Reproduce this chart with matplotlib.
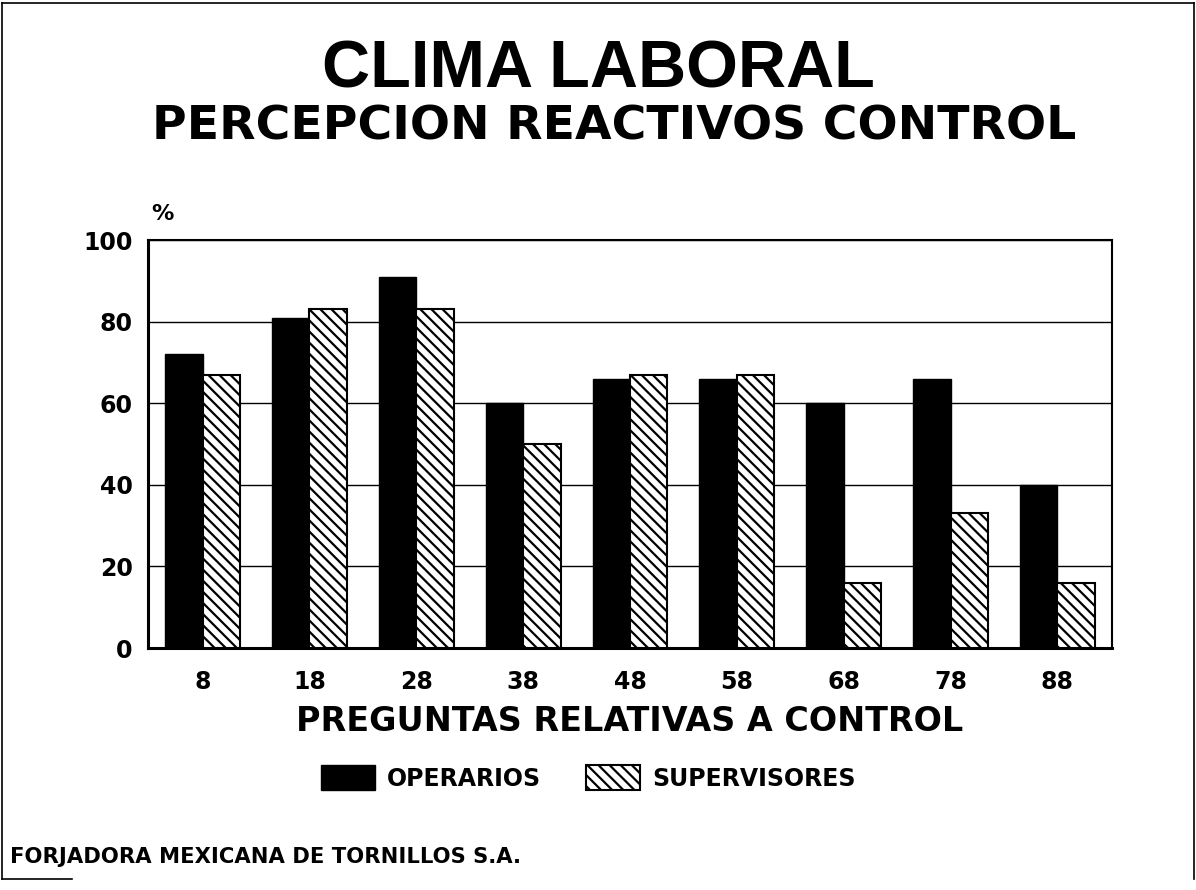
import numpy as np
import matplotlib.pyplot as plt
from matplotlib.lines import Line2D

preguntas = ['8', '18', '28', '38', '48', '58', '68', '78', '88']
operarios = [72, 81, 91, 60, 66, 66, 60, 66, 40]
supervisores = [67, 83, 83, 50, 67, 67, 16, 33, 16]
y_ticks = [0, 20, 40, 60, 80, 100]

plt.rcParams['font.family'] = ['Liberation Sans', 'DejaVu Sans']
plt.rcParams['hatch.linewidth'] = 1.6

fig = plt.figure(figsize=(11.96, 8.90), dpi=100)
ax = fig.add_axes([148 / 1196, 1 - 648 / 890, (1112 - 148) / 1196, (648 - 240) / 890])

x = np.arange(len(preguntas))
w = 0.35
ax.bar(x - w / 2, operarios, w, color='black', edgecolor='black',
       label='OPERARIOS', zorder=3)
ax.bar(x + w / 2, supervisores, w, color='white', edgecolor='black',
       hatch='\\\\\\', linewidth=1.5, label='SUPERVISORES', zorder=3)

ax.set_xlim(-0.51, len(preguntas) - 0.49)
ax.set_ylim(0, 100)
ax.set_yticks(y_ticks)
ax.set_xticks(x)
ax.set_xticklabels(preguntas)
ax.tick_params(length=0, labelsize=17)
ax.tick_params(axis='x', pad=16)
ax.tick_params(axis='y', pad=11)
for lbl in ax.get_xticklabels() + ax.get_yticklabels():
    lbl.set_fontweight('bold')
    lbl.set_family('DejaVu Sans')
ax.yaxis.grid(True, color='black', linewidth=1.0, zorder=0)
for side in ['left', 'bottom']:
    ax.spines[side].set_linewidth(2.2)
for side in ['top', 'right']:
    ax.spines[side].set_linewidth(1.5)

ax.set_xlabel('PREGUNTAS RELATIVAS A CONTROL', fontsize=24, fontweight='bold',
              family='DejaVu Sans', labelpad=8)
ax.text(0.003, 1.064, '%', transform=ax.transAxes, fontsize=16,
        fontweight='bold', ha='left', va='center', family='DejaVu Sans')

fig.text(0.5, 1 - 71 / 890, 'CLIMA LABORAL', ha='center', va='center',
         fontsize=48, fontweight='bold')
fig.text(614 / 1196, 1 - 127 / 890, 'PERCEPCION REACTIVOS CONTROL', ha='center',
         va='center', fontsize=34, fontweight='bold', family='DejaVu Sans')

fig.legend(loc='center', bbox_to_anchor=(0.5 - 10 / 1196, 1 - 778 / 890), ncol=2,
           frameon=False,
           prop={'family': 'DejaVu Sans', 'weight': 'bold', 'size': 17},
           handlelength=2.3, handleheight=1.2, handletextpad=0.5,
           columnspacing=1.9)

fig.text(10 / 1196, 1 - 857 / 890, 'FORJADORA MEXICANA DE TORNILLOS S.A.',
         ha='left', va='center', fontsize=15.2, fontweight='bold',
         family='DejaVu Sans')

# page frame of the scanned sheet
frame = dict(transform=fig.transFigure, color='black', linewidth=1.2)
fig.lines.append(Line2D([0.002, 0.002], [0.012, 0.997], **frame))
fig.lines.append(Line2D([0.002, 0.998], [0.997, 0.997], **frame))
fig.lines.append(Line2D([0.998, 0.998], [0.012, 0.997], **frame))
fig.lines.append(Line2D([0.002, 0.06], [0.012, 0.012], **frame))

fig.savefig('out.png', dpi=100)
